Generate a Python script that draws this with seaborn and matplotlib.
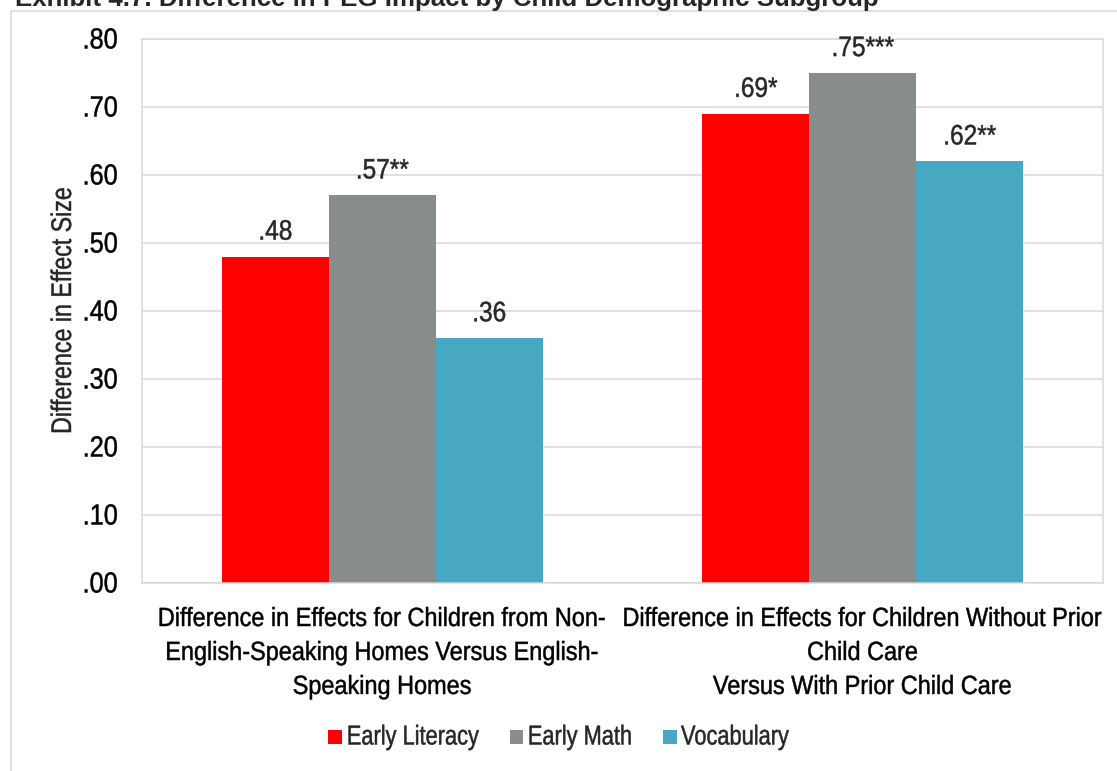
import numpy as np
import pandas as pd
import matplotlib
matplotlib.use("Agg")
import matplotlib.pyplot as plt
from matplotlib.patches import Patch, Rectangle
from matplotlib.patheffects import AbstractPathEffect
from matplotlib.transforms import Affine2D
import seaborn as sns

# ---- data -------------------------------------------------------------
categories = [
    "Difference in Effects for Children from Non-\nEnglish-Speaking Homes Versus English-\nSpeaking Homes",
    "Difference in Effects for Children Without Prior\nChild Care\nVersus With Prior Child Care",
]
series = ["Early Literacy", "Early Math", "Vocabulary"]
early_literacy = [0.48, 0.69]
early_math = [0.57, 0.75]
vocabulary = [0.36, 0.62]
literacy_sig = ["", "*"]
math_sig = ["**", "***"]
vocab_sig = ["", "**"]
y_ticks = [0.0, 0.1, 0.2, 0.3, 0.4, 0.5, 0.6, 0.7, 0.8]
colors = ["#FF0000", "#878C8C", "#48A8C4"]

title = "Exhibit 4.7. Difference in PEG Impact by Child Demographic Subgroup"
y_label = "Difference in Effect Size"

df = pd.DataFrame({
    "category": categories * 3,
    "measure": np.repeat(series, len(categories)),
    "value": early_literacy + early_math + vocabulary,
})


class Tall(AbstractPathEffect):
    """Narrow-face look: glyphs scaled taller about the baseline, with a hairline
    outline for a slightly heavier stroke."""

    def __init__(self, sy, lw=0.35):
        super().__init__()
        self.sy = sy
        self.lw = lw

    def draw_path(self, renderer, gc, tpath, affine, rgbFace=None):
        trans = Affine2D().scale(1.0, self.sy) + affine
        gc0 = renderer.new_gc()
        gc0.copy_properties(gc)
        gc0.set_linewidth(self.lw)
        if rgbFace is not None:
            gc0.set_foreground(rgbFace)
        renderer.draw_path(gc0, tpath, trans, rgbFace)
        gc0.restore()


# ---- style ------------------------------------------------------------
sns.set_style("white")
plt.rcParams["font.family"] = ["Liberation Sans", "DejaVu Sans"]
GRID = "#D9D9D9"

W, H = 1117, 771
fig = plt.figure(figsize=(W / 100, H / 100), dpi=100)
ax = fig.add_axes([142 / W, 1 - 583 / H, 961 / W, 544 / H])

sns.barplot(data=df, x="category", y="value", hue="measure",
            order=categories, hue_order=series, palette=colors,
            width=0.668, saturation=1, linewidth=0, legend=False, ax=ax)

ax.set_xlim(-0.5, 1.5)
ax.set_ylim(0, 0.8)
ax.set_yticks(y_ticks)
ax.set_yticklabels([f"{t:.2f}"[1:] for t in y_ticks], fontsize=18.2)
ax.set_xlabel("")
ax.set_ylabel(y_label, fontsize=16.7)
ax.yaxis.set_label_coords(-0.0687, 0.5)
ax.yaxis.label.set_path_effects([Tall(1.22)])

ax.yaxis.grid(True, color=GRID, lw=1.1)
ax.set_axisbelow(True)
for side in ["left", "right", "top", "bottom"]:
    ax.spines[side].set_visible(True)
    ax.spines[side].set_color(GRID)
    ax.spines[side].set_linewidth(1.1)

ax.tick_params(axis="y", direction="out", length=6.5, width=1.1, color=GRID,
               pad=11, labelcolor="black")
ax.set_xticks([0, 1])
ax.set_xticklabels(categories, fontsize=16.9, linespacing=1.61, ha="center")
ax.tick_params(axis="x", which="major", length=0, pad=18, labelcolor="black")
ax.set_xticks([-0.5, 0.5, 1.5], minor=True)
ax.tick_params(axis="x", which="minor", direction="out", length=6.5,
               width=1.1, color=GRID)
for lbl in ax.get_yticklabels():
    lbl.set_path_effects([Tall(1.15)])
for lbl in ax.get_xticklabels():
    lbl.set_path_effects([Tall(1.12)])

# ---- value labels -----------------------------------------------------
values = [early_literacy, early_math, vocabulary]
sigs = [literacy_sig, math_sig, vocab_sig]
for container, vals, marks in zip(ax.containers, values, sigs):
    for bar, v, m in zip(container, vals, marks):
        ax.annotate(f"{v:.2f}"[1:] + m,
                    (bar.get_x() + bar.get_width() / 2, v),
                    xytext=(0, 12.2), textcoords="offset points",
                    ha="center", va="baseline", fontsize=17.6,
                    path_effects=[Tall(1.15)])

# ---- legend -----------------------------------------------------------
handles = [Patch(facecolor=c, edgecolor="none", label=s) for c, s in zip(colors, series)]
leg = fig.legend(handles=handles, loc="center", bbox_to_anchor=(0.5, 1 - 739 / H),
                 ncol=3, frameon=False, fontsize=15.7, handlelength=0.64,
                 handleheight=0.64, handletextpad=0.2, columnspacing=1.42,
                 borderaxespad=0)
for t in leg.get_texts():
    t.set_path_effects([Tall(1.25)])

# ---- title and outer frame -------------------------------------------
fig.text(15 / W, 1 - 6 / H, title, fontsize=18.6, fontweight="bold",
         ha="left", va="baseline")
fig.add_artist(Rectangle((11 / W, -0.1), 2, (1 - 11 / H) + 0.1,
                         transform=fig.transFigure, fill=False,
                         edgecolor=GRID, lw=1.1, clip_on=False))

fig.savefig("out.png", dpi=100)
